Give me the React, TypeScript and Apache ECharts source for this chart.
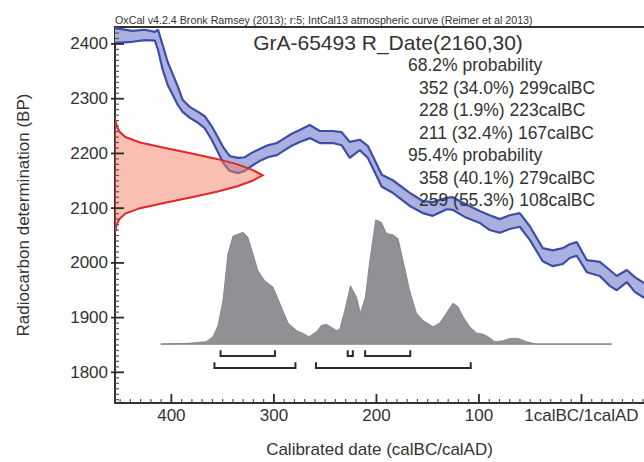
import React, { useEffect, useRef } from 'react';
import * as echarts from 'echarts';

const headerText = 'OxCal v4.2.4 Bronk Ramsey (2013); r:5; IntCal13 atmospheric curve (Reimer et al 2013)';
const sampleName = 'GrA-65493';
const rDateValue = 2160;
const rDateError = 30;

const xMajorTicks = [400, 300, 200, 100, 0];
const yMajorTicks = [1800, 1900, 2000, 2100, 2200, 2300, 2400];

// IntCal13 curve band (cal BC, BP upper / lower)
const curveYears = [455, 438, 426, 416, 413, 408.5, 403.6, 398.7, 393.9, 389, 382, 374, 367.5, 360.7, 354.8, 349, 343, 335, 328.5, 321.7, 314, 306, 297, 289.5, 282.6, 274.8, 265, 255.3, 242.6, 234, 226, 216.3, 208.5, 201.7, 194.8, 184, 167.5, 154.8, 145, 131.4, 125.6, 113.9, 99.2, 89.5, 79.7, 70, 60.2, 50.4, 37.8, 28, 18.2, 11.4, 4.6, -5.2, -17.9, -27.6, -34.4, -44.2, -52, -61];
const curveUpper = [2429, 2424, 2426, 2422, 2426, 2398, 2367, 2345, 2323, 2298, 2285, 2276, 2268, 2250, 2230, 2210, 2195, 2192, 2193, 2201, 2208, 2215, 2219, 2228, 2236, 2243, 2252, 2241, 2241, 2239, 2221, 2225, 2214, 2188, 2161, 2151, 2128, 2113, 2111, 2119, 2120, 2108, 2095, 2087, 2080, 2087, 2091, 2067, 2027, 2023, 2027, 2034, 2038, 2005, 2002, 1987, 1976, 1987, 1974, 1963];
const curveLower = [2402, 2404, 2407, 2406, 2389, 2353, 2325, 2307, 2289, 2276, 2265, 2256, 2246, 2225, 2203, 2181, 2168, 2164, 2168, 2177, 2186, 2193, 2197, 2206, 2214, 2221, 2228, 2219, 2219, 2215, 2192, 2206, 2192, 2166, 2139, 2128, 2104, 2091, 2086, 2098, 2097, 2084, 2073, 2060, 2055, 2062, 2066, 2042, 2003, 1994, 1998, 2009, 2013, 1983, 1976, 1958, 1950, 1965, 1947, 1936];

// R_Date likelihood (BP, relative density)
const rDateBP = [2265, 2260, 2250, 2240, 2230, 2220, 2210, 2200, 2190, 2180, 2170, 2160, 2150, 2140, 2130, 2120, 2110, 2100, 2090, 2080, 2070, 2060, 2055];
const rDateDensity = [0, 0.003, 0.012, 0.03, 0.07, 0.17, 0.34, 0.52, 0.69, 0.83, 0.93, 1.0, 0.93, 0.83, 0.69, 0.52, 0.34, 0.17, 0.07, 0.03, 0.012, 0.003, 0];

// Calibrated distribution (cal BC, relative density)
const calYears = [410.4, 383.8, 365.9, 359.4, 354.5, 349.7, 344.8, 339.9, 330.1, 325.3, 315.5, 309, 300.9, 294.3, 286.2, 278, 271.6, 265.8, 258.5, 253.7, 248.8, 239, 235.8, 230.9, 225.4, 219.5, 215.6, 210.7, 206.5, 200.7, 195.1, 190.2, 183.8, 178.9, 174, 167.5, 161, 154.5, 144.8, 138.2, 131.7, 125.3, 120.4, 115.5, 109, 102.4, 96, 91.1, 84.6, 76.5, 70, 61.9, 53.7, 43.9, -29.3];
const calDensity = [0, 0.006, 0.02, 0.06, 0.15, 0.35, 0.73, 0.87, 0.9, 0.86, 0.59, 0.51, 0.46, 0.33, 0.17, 0.11, 0.086, 0.06, 0.1, 0.15, 0.16, 0.11, 0.12, 0.27, 0.47, 0.38, 0.25, 0.38, 0.67, 1.0, 0.98, 0.89, 0.88, 0.85, 0.67, 0.43, 0.25, 0.19, 0.14, 0.17, 0.25, 0.33, 0.3, 0.22, 0.14, 0.09, 0.08, 0.06, 0.02, 0.027, 0.046, 0.046, 0.02, 0, 0];

// Highest probability ranges [from BC, to BC, percent]
const ranges68 = [[352, 299, 34.0], [228, 223, 1.9], [211, 167, 32.4]];
const ranges95 = [[358, 279, 40.1], [259, 108, 55.3]];

const X_MIN = -61;
const X_MAX = 455;
const Y_MIN = 1744;
const Y_MAX = 2431;
const RDATE_SCALE = 144; // years of horizontal extent at peak
const CAL_BASE = 1851.6;
const CAL_SCALE = 227;

const FONT = '"Liberation Sans", Arial, Helvetica, sans-serif';
const TEXT = '#333';

function range(a: number, b: number, step: number) {
  const out: number[] = [];
  for (let v = a; v <= b; v += step) out.push(v);
  return out;
}

export default function App() {
  const ref = useRef<HTMLDivElement>(null);
  useEffect(() => {
    if (!ref.current) return;
    const chart = echarts.init(ref.current, undefined, { renderer: 'svg' });

    const bandPts: number[][] = [];
    curveYears.forEach((x, i) => bandPts.push([x, curveUpper[i]]));
    for (let i = curveYears.length - 1; i >= 0; i--) bandPts.push([curveYears[i], curveLower[i]]);

    const redPts = rDateBP.map((bp, i) => [X_MAX - rDateDensity[i] * RDATE_SCALE, bp]);
    const calPts = calYears.map((x, i) => [x, CAL_BASE + calDensity[i] * CAL_SCALE]);

    const polySeries = (pts: number[][], style: any, z: number) => ({
      type: 'custom',
      xAxisIndex: 0,
      yAxisIndex: 0,
      clip: true,
      z,
      data: [[pts[0][0], pts[0][1]]],
      renderItem: (params: any, api: any) => {
        if (params.dataIndex !== 0) return null;
        return {
          type: 'polygon',
          shape: { points: pts.map((p) => api.coord(p)) },
          style,
        };
      },
    });

    const fmtRange = (r: number[]) => `${r[0]} (${r[2].toFixed(1)}%) ${r[1]}calBC`;
    const textLines: { t: string; x: number }[] = [
      { t: '68.2% probability', x: 408 },
      ...ranges68.map((r) => ({ t: fmtRange(r), x: 419 })),
      { t: '95.4% probability', x: 408 },
      ...ranges95.map((r) => ({ t: fmtRange(r), x: 419 })),
    ];

    // tick data: [value, axis (0 = x, 1 = y), major (1) / minor (0)]
    const tickData: number[][] = [
      ...range(-60, 450, 10).map((v) => [v, 0, v % 100 === 0 ? 1 : 0]),
      ...range(1750, 2430, 10).map((v) => [v, 1, v % 100 === 0 ? 1 : 0]),
    ];

    chart.setOption({
      animation: false,
      grid: { left: 115, right: 0, top: 27, bottom: 59, outerBoundsMode: 'none' },
      xAxis: [
        {
          type: 'value',
          inverse: true,
          min: X_MIN,
          max: X_MAX,
          position: 'bottom',
          splitLine: { show: false },
          name: 'Calibrated date (calBC/calAD)',
          nameLocation: 'middle',
          nameGap: 38,
          nameTextStyle: { color: TEXT, fontSize: 17, fontFamily: FONT },
          axisLine: { show: true, onZero: false, lineStyle: { color: '#333', width: 2 } },
          axisTick: { show: false },
          axisLabel: {
            show: true,
            customValues: xMajorTicks,
            margin: 4,
            color: TEXT,
            fontSize: 17,
            fontFamily: FONT,
            formatter: (v: number) => (v === 0 ? '1calBC/1calAD' : String(v)),
          },
        },
        {
          type: 'value',
          inverse: true,
          min: X_MIN,
          max: X_MAX,
          position: 'top',
          splitLine: { show: false },
          axisLine: { show: true, onZero: false, lineStyle: { color: '#333', width: 2 } },
          axisTick: { show: false },
          axisLabel: { show: false },
        },
      ],
      yAxis: [
        {
          type: 'value',
          min: Y_MIN,
          max: Y_MAX,
          position: 'left',
          splitLine: { show: false },
          name: 'Radiocarbon determination (BP)',
          nameLocation: 'middle',
          nameGap: 83,
          nameTextStyle: { color: TEXT, fontSize: 17, fontFamily: FONT },
          axisLine: { show: true, onZero: false, lineStyle: { color: '#333', width: 2 } },
          axisTick: { show: false },
          axisLabel: {
            show: true,
            customValues: yMajorTicks,
            margin: 7,
            color: TEXT,
            fontSize: 17,
            fontFamily: FONT,
            formatter: (v: number) => String(v),
          },
        },
      ],
      series: [
        polySeries(bandPts, { fill: '#aab0e0', stroke: 'none' }, 1),
        {
          type: 'line',
          xAxisIndex: 0,
          yAxisIndex: 0,
          z: 2,
          showSymbol: false,
          data: curveYears.map((x, i) => [x, curveUpper[i]]),
          lineStyle: { color: '#3c4ea6', width: 2.2 },
        },
        {
          type: 'line',
          xAxisIndex: 0,
          yAxisIndex: 0,
          z: 2,
          showSymbol: false,
          data: curveYears.map((x, i) => [x, curveLower[i]]),
          lineStyle: { color: '#3c4ea6', width: 2.2 },
        },
        polySeries(redPts, { fill: 'rgba(244,128,98,0.5)', stroke: '#e3262b', lineWidth: 2 }, 3),
        {
          type: 'line',
          xAxisIndex: 0,
          yAxisIndex: 0,
          z: 3,
          showSymbol: false,
          data: [[calYears[0], CAL_BASE], [calYears[calYears.length - 1], CAL_BASE]],
          lineStyle: { color: '#9a9a9a', width: 1 },
        },
        polySeries(calPts, { fill: '#909195', stroke: '#7c7d80', lineWidth: 0.8 }, 4),
        {
          type: 'custom',
          xAxisIndex: 0,
          yAxisIndex: 0,
          z: 5,
          data: [...ranges68.map((r) => [r[0], r[1], 0]), ...ranges95.map((r) => [r[0], r[1], 1])],
          renderItem: (params: any, api: any) => {
            const from = api.value(0);
            const to = api.value(1);
            const lvl = api.value(2);
            const base = lvl === 0 ? 1830 : 1808;
            const top = base + 10.5;
            const pts = [[from, top], [from, base], [to, base], [to, top]].map((p) => api.coord(p));
            return {
              type: 'polyline',
              shape: { points: pts },
              style: { stroke: '#2b2b2b', lineWidth: 2, fill: null },
            };
          },
        },
        {
          type: 'custom',
          xAxisIndex: 0,
          yAxisIndex: 0,
          z: 6,
          data: tickData,
          renderItem: (params: any, api: any) => {
            const v = api.value(0);
            const isY = api.value(1) === 1;
            const major = api.value(2) === 1;
            let pts: number[][];
            if (!isY) {
              const p = api.coord([v, Y_MIN]);
              const len = major ? 9 : 4;
              pts = [[p[0], p[1]], [p[0], p[1] - len]];
            } else {
              const p = api.coord([X_MAX, v]);
              pts = major ? [[p[0] - 4, p[1]], [p[0] + 9, p[1]]] : [[p[0], p[1]], [p[0] + 4, p[1]]];
            }
            return {
              type: 'polyline',
              shape: { points: pts },
              style: { stroke: major ? '#2b2b2b' : '#555', lineWidth: major ? 1.8 : 1.2, fill: null },
            };
          },
        },
      ],
      graphic: [
        {
          type: 'text',
          x: 115,
          y: 25,
          style: {
            text: headerText,
            font: `10.7px ${FONT}`,
            fill: TEXT,
            textAlign: 'left',
            textVerticalAlign: 'bottom',
            align: 'left',
            verticalAlign: 'bottom',
          },
        },
        {
          type: 'text',
          x: 388,
          y: 42,
          style: {
            text: `${sampleName} R_Date(${rDateValue},${rDateError})`,
            font: `21px ${FONT}`,
            fill: TEXT,
            textAlign: 'center',
            textVerticalAlign: 'middle',
            align: 'center',
            verticalAlign: 'middle',
          },
        },
        ...textLines.map((l, i) => ({
          type: 'text',
          x: l.x,
          y: 65 + i * 22.5,
          z: 10,
          style: {
            text: l.t,
            font: `17.5px ${FONT}`,
            fill: TEXT,
            textAlign: 'left',
            textVerticalAlign: 'middle',
            align: 'left',
            verticalAlign: 'middle',
          },
        })),
      ],
    });

    return () => chart.dispose();
  }, []);
  return <div ref={ref} style={{ position: 'absolute', left: 0, top: 0, width: 644, height: 462 }} />;
}
